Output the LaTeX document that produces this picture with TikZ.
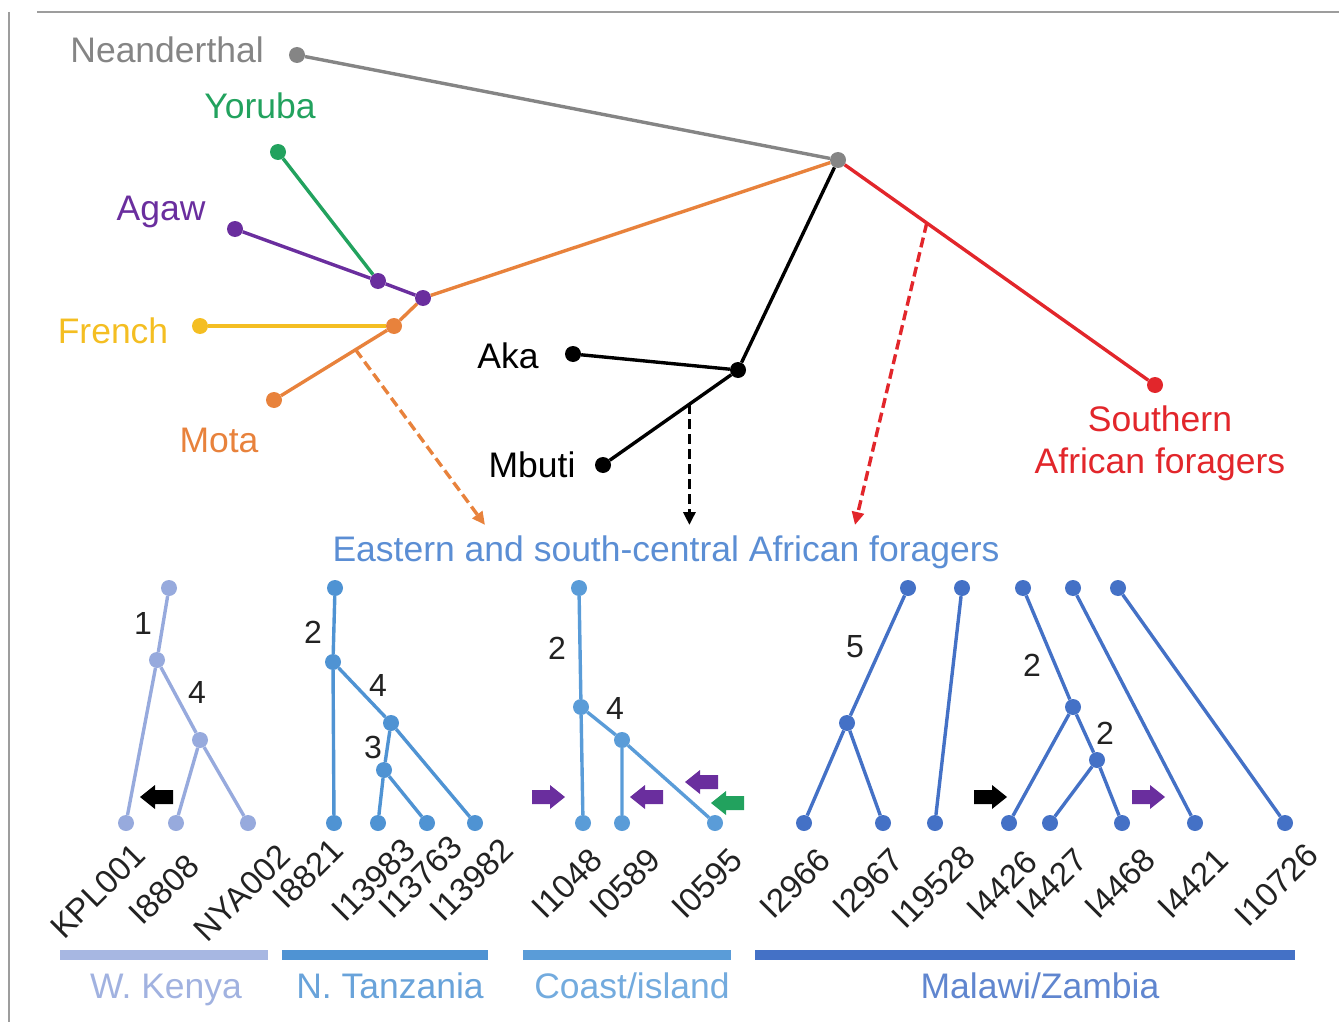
\documentclass[tikz,border=0pt]{standalone}
\usepackage{fontspec}
\setmainfont{Liberation Sans}
\usetikzlibrary{calc,positioning,arrows.meta}
\definecolor{neagray}{HTML}{858585}
\definecolor{yorgreen}{HTML}{22A25E}
\definecolor{agpurple}{HTML}{6A2E9E}
\definecolor{fryellow}{HTML}{F4BE22}
\definecolor{motaorange}{HTML}{E8823C}
\definecolor{sared}{HTML}{E2262B}
\definecolor{eablue}{HTML}{5B8ED4}
\definecolor{wkblue}{HTML}{97AADD}
\definecolor{tzblue}{HTML}{4F93D3}
\definecolor{ciblue}{HTML}{5A9CD8}
\definecolor{mzblue}{HTML}{4471C6}
\definecolor{mignum}{HTML}{222222}
\begin{document}
\begin{tikzpicture}[x=1pt,y=-1pt,
  dot/.style={circle,fill=#1,inner sep=0pt,minimum size=16pt},
  br/.style={draw=#1,line width=3.4pt},
  mig/.style={draw=#1,line width=3.4pt,dash pattern=on 10pt off 5pt,
    -{Triangle[length=13pt,width=12pt,fill=#1]}},
  lab/.style={font=\fontsize{35.5}{42}\selectfont,inner sep=0pt,anchor=base},
  num/.style={font=\fontsize{32}{38}\selectfont,inner sep=0pt,text=mignum},
  leaf/.style={font=\fontsize{33}{40}\selectfont,inner sep=0pt,rotate=45,
    anchor=north east,text=mignum},
  bar/.style={draw=#1,line width=10pt},
  fatarr/.pic={\fill[#1] (-16,-7) -- (2,-7) -- (2,-12) -- (17,0)
    -- (2,12) -- (2,7) -- (-16,7) -- cycle;}]
\useasboundingbox (0,0) rectangle (1339,1022);
%%% frame
\draw[neagray!80,line width=2.2pt] (37,12) -- (1339,12);
\draw[neagray!80,line width=2.2pt] (9,12) -- (9,1022);

%%% upper tree
\node[dot=neagray] (ne) at (297,55) {};
\node[dot=neagray] (rt) at (838,160) {};
\node[dot=yorgreen] (yo) at (278,152) {};
\node[dot=agpurple] (ag) at (235,229) {};
\node[dot=agpurple] (ya) at (378,281) {};
\node[dot=agpurple] (ea) at (423,298) {};
\node[dot=fryellow] (fr) at (200,326) {};
\node[dot=motaorange] (fm) at (394,326) {};
\node[dot=motaorange] (mo) at (274,400) {};
\node[dot=black] (aka) at (573,354) {};
\node[dot=black] (cf) at (738,370) {};
\node[dot=black] (mb) at (603,465) {};
\node[dot=sared] (sa) at (1155,385) {};

\draw[br=neagray] (ne) -- (rt);
\draw[br=yorgreen] (yo) -- (ya);
\draw[br=agpurple] (ag) -- (ya) -- (ea);
\draw[br=motaorange] (rt) -- (ea) -- (fm) -- (mo);
\draw[br=fryellow] (fr) -- (fm);
\draw[br=black] (rt) -- (cf) -- (aka);
\draw[br=black] (cf) -- (mb);
\draw[br=sared] (rt) -- (sa);

\node[lab,anchor=east,text=neagray] (nel) at (264,50) {Neanderthal};
\node[lab,anchor=center,text=yorgreen] (yol) at (260,106) {Yoruba};
\node[lab,text=agpurple] (agl) at (161,220) {Agaw};
\node[lab,text=fryellow] (frl) at (113,343) {French};
\node[lab,text=motaorange] (mol) at (219,452) {Mota};
\node[lab] (akal) at (508,368) {Aka};
\node[lab] (mbl) at (532,477) {Mbuti};
\node[lab,text=sared] (sal1) at (1160,431) {Southern};
\node[lab,text=sared] (sal2) at (1160,473) {African foragers};

%%% admixture into eastern foragers
\coordinate (ms) at ($(fm)!0.32!(mo)$);
\coordinate (me) at (485,525);
\coordinate (bs) at ($(cf)!0.36!(mb)$);
\coordinate (be) at (bs |- me);
\coordinate (rs) at ($(rt)!0.28!(sa)$);
\coordinate (re) at (855,525);
\draw[mig=motaorange] (ms) -- (me);
\draw[mig=black] (bs) -- (be);
\draw[mig=sared] (rs) -- (re);

\node[lab,text=eablue] (eal) at (666,561) {Eastern and south-central African foragers};

%%% W. Kenya
\foreach \n/\x/\y in {wt/169/588,wa/157/660,wb/200/740,kpl/126/823,i8808/176/823,nya/248/823}
  \node[dot=wkblue] (\n) at (\x,\y) {};
\draw[br=wkblue] (wt) -- (wa) -- (kpl);
\draw[br=wkblue] (wa) -- (wb) -- (i8808);
\draw[br=wkblue] (wb) -- (nya);

%%% N. Tanzania
\foreach \n/\x/\y in {tt/335/588,ta/333/662,tb/391/723,tc/384/770,i8821/334/823,i13983/378/823,i13763/427/823,i13982/475/823}
  \node[dot=tzblue] (\n) at (\x,\y) {};
\draw[br=tzblue] (tt) -- (ta) -- (i8821);
\draw[br=tzblue] (ta) -- (tb) -- (i13982);
\draw[br=tzblue] (tb) -- (tc) -- (i13983);
\draw[br=tzblue] (tc) -- (i13763);

%%% Coast/island
\foreach \n/\x/\y in {ct/579/588,ca/581/707,cb/622/740,i1048/583/823,i0589/622/823,i0595/715/823}
  \node[dot=ciblue] (\n) at (\x,\y) {};
\draw[br=ciblue] (ct) -- (ca) -- (i1048);
\draw[br=ciblue] (ca) -- (cb) -- (i0589);
\draw[br=ciblue] (cb) -- (i0595);

%%% Malawi/Zambia
\foreach \n/\x/\y in {mat/908/588,ma/847/723,i2966/804/823,i2967/883/823,
  mbt/962/588,i19528/935/823,mct/1023/588,mc/1073/707,md/1097/760,
  i4426/1009/823,i4427/1050/823,i4468/1122/823,met/1073/588,i4421/1195/823,
  mft/1118/588,i10726/1285/823}
  \node[dot=mzblue] (\n) at (\x,\y) {};
\draw[br=mzblue] (mat) -- (ma) -- (i2966);
\draw[br=mzblue] (ma) -- (i2967);
\draw[br=mzblue] (mbt) -- (i19528);
\draw[br=mzblue] (mct) -- (mc) -- (i4426);
\draw[br=mzblue] (mc) -- (md) -- (i4427);
\draw[br=mzblue] (md) -- (i4468);
\draw[br=mzblue] (met) -- (i4421);
\draw[br=mzblue] (mft) -- (i10726);

%%% branch counts
\node[num] (n1) at (143,623) {1};
\node[num] (n2) at (197,692) {4};
\node[num] (n3) at (313,632) {2};
\node[num] (n4) at (378,685) {4};
\node[num] (n5) at (373,747) {3};
\node[num] (n6) at (557,648) {2};
\node[num] (n7) at (615,708) {4};
\node[num] (n8) at (855,647) {5};
\node[num] (n9) at (1032,665) {2};
\node[num] (n10) at (1105,733) {2};

%%% sample labels
\foreach \t/\x/\y in {KPL001/131/841,I8808/185/852,NYA002/276/842,I8821/329/836,
  I13983/401/836,I13763/448/833,I13982/499/836,I1048/588/846,I0589/646/846,
  I0595/728/846,I2966/816/846,I2967/889/846,I19528/961/843,I4426/1023/848,
  I4427/1073/846,I4468/1141/846,I4421/1214/846,I10726/1304/841}
  \node[leaf] (l\t) at (\x,\y) {\t};

%%% fat arrows
\pic[rotate=180] at (157,797) {fatarr=black};
\pic at (548,797) {fatarr=agpurple};
\pic[rotate=180] at (647,797) {fatarr=agpurple};
\pic[rotate=180] at (702,782) {fatarr=agpurple};
\pic[rotate=180] at (728,803) {fatarr=yorgreen};
\pic at (990,797) {fatarr=black};
\pic at (1148,797) {fatarr=agpurple};

%%% regions
\draw[bar=wkblue!85] (60,955) -- (268,955);
\draw[bar=tzblue] (282,955) -- (488,955);
\draw[bar=ciblue] (523,955) -- (731,955);
\draw[bar=mzblue] (755,955) -- (1295,955);
\node[lab,text=wkblue!90] (wkl) at (166,998) {W. Kenya};
\node[lab,text=tzblue!85] (tzl) at (390,998) {N. Tanzania};
\node[lab,text=ciblue!85] (cil) at (632,998) {Coast/island};
\node[lab,text=mzblue!85] (mzl) at (1040,998) {Malawi/Zambia};
\end{tikzpicture}
\end{document}
